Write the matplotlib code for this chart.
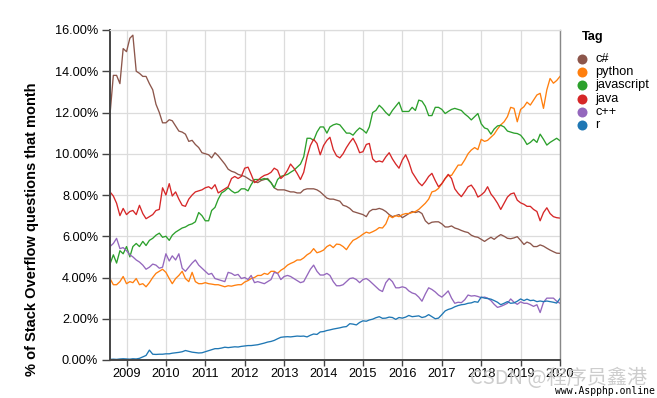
import matplotlib
matplotlib.use("Agg")
import matplotlib.pyplot as plt
import matplotlib.dates as mdates
from matplotlib.lines import Line2D
from matplotlib.ticker import FuncFormatter, MultipleLocator
import pandas as pd

plt.rcParams['font.family'] = ['Liberation Sans', 'DejaVu Sans']

# monthly share of Stack Overflow questions (%), Aug 2008 .. Jan 2020
start_month = "2008-08-01"

csharp = [11.9, 13.8, 13.8, 13.4, 15.1, 14.95, 15.6, 15.75, 14.0, 13.9, 13.75, 13.75,
          13.4, 13.1, 12.4, 12.0, 11.5, 11.5, 11.65, 11.6, 11.35, 11.1, 11.05, 10.95,
          10.6, 10.65, 10.45, 10.3, 10.05, 10.0, 9.95, 9.8, 10.05, 9.9, 9.7, 9.5,
          9.25, 9.15, 9.1, 9.0, 8.95, 8.9, 8.8, 8.7, 8.65, 8.6,
          8.7, 8.75, 8.8, 8.6, 8.35, 8.25, 8.25, 8.25, 8.2, 8.15, 8.15, 8.1, 8.1, 8.25, 8.3,
          8.3, 8.3, 8.25, 8.15, 8.0, 7.85, 7.8, 7.8, 7.75, 7.7, 7.5, 7.45, 7.35, 7.2, 7.15,
          7.1, 7.05, 6.95, 7.2, 7.3, 7.3, 7.35, 7.3, 7.2, 7.05, 6.95, 7.0, 7.05, 6.9, 7.0,
          7.1, 7.2,
          7.15, 7.2, 7.1, 6.75, 6.6, 6.68, 6.7, 6.7, 6.6, 6.45, 6.45, 6.5, 6.4, 6.35, 6.28,
          6.22, 6.18, 6.05, 5.98, 5.95, 5.85, 5.75, 5.85, 5.95, 5.85, 5.98, 6.08, 6.0, 5.9,
          5.88, 5.92, 5.98, 5.8, 5.6, 5.72, 5.65, 5.5, 5.5, 5.58, 5.52, 5.42, 5.33, 5.25,
          5.18, 5.17]

python = [3.95, 3.65, 3.65, 3.8, 4.05, 3.7, 3.8, 3.75, 3.95, 3.65, 3.7, 3.55,
          3.75, 4.0, 4.2, 4.3, 4.4, 4.25, 3.95, 3.7, 3.95, 4.1, 4.3, 3.95,
          3.8, 4.25, 3.8, 3.7, 3.7, 3.75, 3.7, 3.68, 3.65, 3.65, 3.6, 3.55,
          3.6, 3.58, 3.62, 3.65, 3.65, 3.78, 3.85, 3.95, 4.0, 4.1,
          4.1, 4.2, 4.15, 4.3, 4.3, 4.2, 4.35, 4.45, 4.6, 4.68, 4.75, 4.85, 4.85, 4.95, 5.1,
          5.2, 5.4, 5.2, 5.25, 5.33, 5.5, 5.58, 5.45, 5.62, 5.6, 5.5, 5.35, 5.6, 5.8, 5.88,
          5.98, 6.1, 6.2, 6.15, 6.22, 6.3, 6.42, 6.4, 6.6, 7.0, 6.9, 7.0, 6.95, 7.05, 7.1,
          7.1, 7.15,
          7.2, 7.3, 7.45, 7.6, 7.8, 8.15, 8.2, 8.32, 8.55, 8.8, 8.95, 8.95, 9.2, 9.45, 9.45,
          9.7, 10.0, 10.18, 10.3, 10.2, 10.7, 10.6, 10.65, 10.8, 10.95, 11.2, 11.4, 11.55,
          11.8, 12.25, 12.2, 11.55, 12.15, 12.28, 12.5, 12.36, 12.6, 12.85, 12.93, 12.2,
          13.1, 13.65, 13.42, 13.55, 13.75]

javascript = [4.65, 5.1, 4.7, 5.3, 5.15, 5.5, 5.0, 5.5, 5.65, 5.5, 5.75, 5.55,
              5.8, 5.9, 6.05, 6.15, 5.95, 6.0, 5.8, 6.05, 6.2, 6.3, 6.4, 6.45,
              6.55, 6.6, 6.7, 7.15, 7.0, 6.75, 6.75, 7.25, 7.4, 7.8, 8.1, 8.2,
              8.35, 8.2, 8.1, 8.15, 8.3, 8.3, 8.2, 8.5, 8.75, 8.75,
              8.75, 8.8, 8.75, 8.6, 8.35, 8.75, 8.9, 8.95, 9.0, 9.1, 9.2, 9.35, 9.5, 9.85,
              10.75, 10.75, 10.65, 11.05, 11.3, 11.3, 11.0, 11.3, 11.4, 11.45, 11.4, 11.2,
              11.0, 11.0, 10.9, 11.1, 11.25, 11.15, 11.0, 11.3, 12.0, 12.1, 12.35, 12.2,
              12.0, 11.85, 12.1, 12.3, 12.5, 12.05, 12.05, 12.05, 12.25,
              12.1, 12.6, 12.55, 12.3, 11.85, 11.85, 12.25, 12.25, 12.15, 11.95, 12.05,
              12.15, 12.2, 12.15, 12.1, 11.93, 11.8, 11.64, 11.8, 11.95, 11.45, 11.25, 11.2,
              10.95, 11.2, 11.35, 11.38, 11.3, 11.1, 11.05, 11.0, 10.98, 10.9, 10.7, 10.45,
              10.55, 10.7, 10.55, 10.95, 10.7, 10.42, 10.55, 10.65, 10.75, 10.63]

java = [8.15, 7.95, 7.6, 7.0, 7.35, 7.05, 7.2, 7.25, 7.05, 7.5, 7.1, 6.85,
        6.95, 7.05, 7.25, 7.3, 8.35, 8.0, 8.55, 7.95, 8.15, 7.8, 7.5, 7.45,
        7.8, 8.0, 8.15, 8.2, 8.25, 8.35, 8.4, 8.3, 8.5, 8.1, 8.2, 8.3,
        8.4, 8.8, 8.9, 8.8, 8.9, 9.3, 9.35, 9.0, 8.6, 8.7,
        8.85, 8.95, 9.0, 9.1, 9.3, 9.2, 8.8, 8.95, 9.2, 9.5, 9.3, 9.05, 8.75, 9.1, 9.85,
        10.4, 10.7, 10.5, 9.95, 10.4, 10.65, 10.8, 10.2, 9.9, 9.8, 10.0, 10.3, 10.55,
        10.75, 10.45, 10.05, 10.1, 10.45, 10.5, 9.75, 9.6, 9.65, 9.6, 9.85, 10.05, 9.75,
        9.5, 9.3, 9.7, 9.95, 9.6, 9.1,
        8.85, 8.6, 8.45, 8.65, 8.9, 9.05, 8.7, 8.4, 8.55, 8.8, 9.0, 8.8, 8.3, 8.08, 7.92,
        8.15, 8.4, 8.48, 8.25, 7.9, 8.0, 8.15, 8.4, 8.05, 7.85, 7.6, 7.3, 7.6, 7.9, 8.05,
        8.1, 7.75, 7.62, 7.55, 7.45, 7.45, 7.3, 7.2, 6.75, 7.15, 7.38, 7.1, 6.95, 6.9,
        6.88]

cpp = [5.5, 5.65, 5.9, 5.4, 5.45, 5.3, 5.1, 5.0, 4.85, 4.75, 4.6, 4.4,
       4.5, 4.65, 4.6, 4.45, 4.5, 5.15, 4.8, 5.05, 4.85, 5.15, 4.45, 4.3,
       4.5, 4.7, 4.85, 4.6, 4.45, 4.3, 4.15, 4.2, 3.95, 3.9, 3.85, 3.8,
       4.25, 4.2, 4.1, 4.15, 3.95, 4.0, 3.9, 4.1, 3.75, 3.8,
       3.75, 3.7, 3.8, 3.9, 4.25, 4.2, 3.9, 4.05, 4.1, 4.05, 3.95, 3.85, 3.75, 3.8, 4.1,
       4.4, 4.6, 4.3, 4.12, 4.12, 4.2, 4.1, 3.8, 3.6, 3.6, 3.65, 3.8, 3.95, 3.98, 3.9,
       3.75, 3.9, 3.95, 3.85, 3.7, 3.55, 3.4, 3.32, 3.75, 3.95, 3.8, 3.5, 3.5, 3.55, 3.5,
       3.35, 3.25,
       3.2, 3.05, 2.85, 3.2, 3.5, 3.42, 3.3, 3.15, 3.05, 3.2, 3.35, 3.0, 2.75, 2.8, 2.78,
       2.92, 3.15, 3.1, 3.12, 3.08, 3.02, 3.05, 3.0, 2.88, 2.7, 2.55, 2.6, 2.67, 2.75,
       2.96, 2.8, 2.7, 2.82, 2.75, 2.75, 2.68, 2.6, 2.68, 2.3, 2.8, 3.0, 3.0, 3.0, 2.85,
       2.75]

r_lang = [0.03, 0.04, 0.03, 0.05, 0.06, 0.05, 0.04, 0.06, 0.05, 0.08, 0.15, 0.22,
          0.48, 0.28, 0.27, 0.28, 0.28, 0.3, 0.3, 0.33, 0.35, 0.37, 0.4, 0.46,
          0.42, 0.38, 0.36, 0.34, 0.35, 0.4, 0.45, 0.5, 0.55, 0.55, 0.58, 0.62,
          0.6, 0.62, 0.64, 0.63, 0.66, 0.68, 0.7, 0.7, 0.72, 0.74,
          0.78, 0.82, 0.87, 0.9, 0.95, 1.03, 1.1, 1.12, 1.13, 1.12, 1.14, 1.16, 1.15, 1.16,
          1.12, 1.2, 1.26, 1.24, 1.36, 1.38, 1.43, 1.46, 1.5, 1.53, 1.56, 1.6, 1.62, 1.76,
          1.74, 1.7, 1.82, 1.9, 1.88, 1.94, 1.98, 2.05, 2.1, 2.02, 2.03, 2.08, 2.06, 1.97,
          2.06, 2.03, 2.08, 2.16, 2.1,
          2.12, 2.14, 2.06, 2.1, 2.2, 2.1, 2.0, 2.03, 2.2, 2.38, 2.45, 2.5, 2.58, 2.64,
          2.68, 2.7, 2.75, 2.77, 2.83, 2.8, 3.05, 3.0, 2.98, 2.95, 2.88, 2.8, 2.68, 2.75,
          2.83, 2.75, 2.77, 2.85, 2.96, 2.88, 2.95, 2.88, 2.9, 2.83, 2.86, 2.83, 2.86, 2.83,
          2.8, 2.76, 2.98]

tags = ["c#", "python", "javascript", "java", "c++", "r"]
series = [csharp, python, javascript, java, cpp, r_lang]
colors = ["#8c564b", "#ff7f0e", "#2ca02c", "#d62728", "#9467bd", "#1f77b4"]
y_ticks = [0, 2, 4, 6, 8, 10, 12, 14, 16]

n = len(csharp)
for s in series:
    assert len(s) == n, (len(s), n)
months = pd.date_range(start_month, periods=n, freq="MS")

W, H = 657, 398
fig = plt.figure(figsize=(W / 100, H / 100), dpi=100)
ax = fig.add_axes([110 / W, 1 - 360 / H, 450 / W, 330 / H])

# draw order: r first, c# last? keep legend order but draw so overlaps look alike
for tag, vals, col in zip(tags, series, colors):
    ax.plot(months, vals, color=col, lw=0.95, solid_joinstyle="round", label=tag)

ax.set_xlim(months[0], months[-1])
ax.set_ylim(y_ticks[0], y_ticks[-1])
ax.set_yticks(y_ticks)
ax.yaxis.set_major_formatter(FuncFormatter(lambda v, p: f"{v:.2f}%"))
ax.xaxis.set_major_locator(mdates.YearLocator())
ax.xaxis.set_major_formatter(mdates.DateFormatter("%Y"))

ax.grid(True, color="#dcdcdc", lw=0.9)
ax.set_axisbelow(True)
for side in ["left", "bottom"]:
    ax.spines[side].set_color("#444444")
    ax.spines[side].set_linewidth(1.4)
ax.spines["top"].set_color("#dcdcdc")
ax.spines["top"].set_linewidth(0.9)
ax.spines["right"].set_color("#888888")
ax.spines["right"].set_linewidth(1.0)

ax.tick_params(axis="y", length=6, width=1.0, color="#444444", pad=2.5,
               labelsize=9.2, labelcolor="black")
ax.tick_params(axis="x", length=4, width=1.0, color="#444444", pad=2,
               labelsize=9.2, labelcolor="black")

fig.text(32.5 / W, 1 - 229 / H, "% of Stack Overflow questions that month",
         rotation=90, ha="center", va="center", fontsize=10.5, fontweight="bold")

# legend
fig.text(582 / W, 1 - 37 / H, "Tag", ha="left", va="center", fontsize=9.2,
         fontweight="bold")
row_y = [59, 72.2, 85.4, 98.6, 111.8, 125]
for tag, col, yy in zip(tags, colors, row_y):
    fig.add_artist(Line2D([582.3 / W], [1 - yy / H], marker="o", markersize=7.2,
                          color=col, markeredgewidth=0, linestyle="none",
                          transform=fig.transFigure))
    fig.text(595 / W, 1 - yy / H, tag, ha="left", va="center", fontsize=9.2)

# watermarks
fig.text(470 / W, 1 - 378 / H, "CSDN @程序员鑫港", ha="left", va="center",
         fontsize=14.5, color="#c8c8c8", alpha=0.9,
         family=["Noto Sans CJK SC", "DejaVu Sans"])
fig.text(655 / W, 1 - 391 / H, "www.Aspphp.online", ha="right", va="center",
         fontsize=7, color="black", family="DejaVu Sans Mono")

fig.savefig("out.png", dpi=100)
